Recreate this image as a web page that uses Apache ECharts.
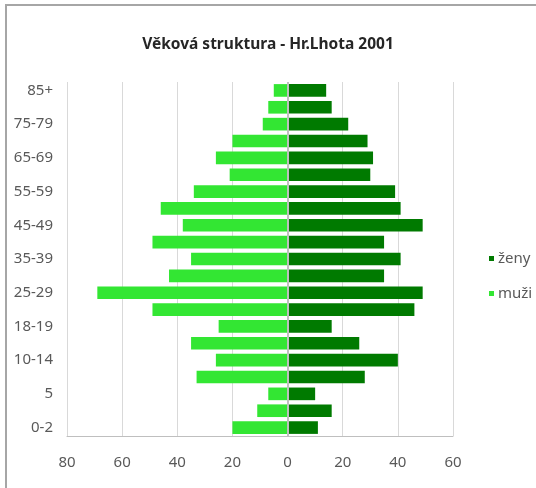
<!DOCTYPE html>
<html>
<head>
<meta charset="utf-8">
<script src="https://cdn.jsdelivr.net/npm/echarts@6/dist/echarts.min.js"></script>
<style>
  html, body { margin: 0; padding: 0; background: #fff; }
  #chart { width: 536px; height: 488px; }
</style>
</head>
<body>
<div id="chart"></div>
<script>
// age groups, bottom to top
var ageGroups = ['0-2', '3-4', '5', '6-9', '10-14', '15-17', '18-19', '20-24', '25-29', '30-34',
  '35-39', '40-44', '45-49', '50-54', '55-59', '60-64', '65-69', '70-74', '75-79', '80-84', '85+'];
var zeny = [11, 16, 10, 28, 40, 26, 16, 46, 49, 35, 41, 35, 49, 41, 39, 30, 31, 29, 22, 16, 14];
var muzi = [20, 11, 7, 33, 26, 35, 25, 49, 69, 43, 35, 49, 38, 46, 34, 21, 26, 20, 9, 7, 5];
var xTicks = { min: -80, max: 60, step: 20 };

var font = '"Noto Sans", sans-serif';
var chart = echarts.init(document.getElementById('chart'));

var option = {
  animation: false,
  title: {
    text: 'Věková struktura - Hr.Lhota 2001',
    left: 'center',
    top: 32,
    textStyle: { fontFamily: font, fontSize: 15.5, fontWeight: 'bold', color: '#262626' }
  },
  graphic: [{
    type: 'rect',
    shape: { x: 6, y: 5, width: 620, height: 600 },
    style: { fill: 'none', stroke: '#a6a6a6', lineWidth: 2 },
    silent: true
  }],
  legend: {
    orient: 'vertical',
    left: 484,
    top: 246,
    itemGap: 20,
    itemWidth: 5,
    itemHeight: 5,
    icon: 'rect',
    data: ['ženy', 'muži'],
    textStyle: { fontFamily: font, fontSize: 15, color: '#595959', padding: [0, 0, 0, -1] }
  },
  grid: { left: 67, right: 83, top: 82, bottom: 52 },
  xAxis: {
    type: 'value',
    min: xTicks.min,
    max: xTicks.max,
    interval: xTicks.step,
    axisLine: { show: true, lineStyle: { color: '#bfbfbf', width: 1 } },
    axisTick: { show: false },
    axisLabel: {
      margin: 19,
      fontFamily: font, fontSize: 15, color: '#595959',
      formatter: function (v) { return Math.abs(v); }
    },
    splitLine: { show: true, lineStyle: { color: '#d9d9d9', width: 1 } }
  },
  yAxis: {
    type: 'category',
    data: ageGroups,
    axisLine: { show: false },
    axisTick: { show: false },
    axisLabel: {
      interval: 1,
      margin: 14,
      fontFamily: font, fontSize: 15, color: '#595959'
    }
  },
  series: [
    {
      name: 'ženy',
      type: 'bar',
      stack: 'pyramid',
      barCategoryGap: '25%',
      itemStyle: { color: '#007a00' },
      data: zeny
    },
    {
      name: 'muži',
      type: 'bar',
      stack: 'pyramid',
      barCategoryGap: '25%',
      itemStyle: { color: '#33e633' },
      data: muzi.map(function (v) { return -v; }),
      markLine: {
        silent: true,
        symbol: 'none',
        label: { show: false },
        lineStyle: { color: '#bfbfbf', width: 2, type: 'solid' },
        data: [{ xAxis: 0 }]
      }
    }
  ]
};

chart.setOption(option);
</script>
</body>
</html>
